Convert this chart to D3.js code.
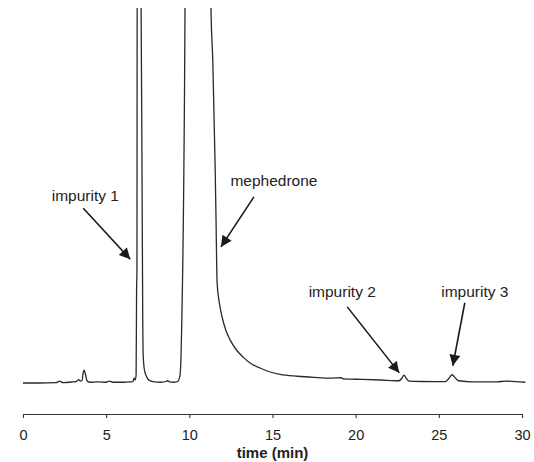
<!DOCTYPE html>
<html lang="en">
<head>
<meta charset="utf-8">
<title>mephedrone chromatogram</title>
<script src="https://cdn.jsdelivr.net/npm/d3@7"></script>
<style>
  body { margin: 0; background: #fff; }
  svg { display: block; }
  text { font-family: "Liberation Sans", Arial, sans-serif; fill: #222; }
</style>
</head>
<body>
<script>
// retention time (min) and detector signal (arbitrary units, 100 = top of plot)
var times = [
  0, 1.0, 2.0, 2.2, 2.4, 3.0, 3.2, 3.35, 3.45, 3.55, 3.62, 3.68, 3.75, 3.85, 4.0,
  4.5, 5.0, 5.2, 5.4, 6.0, 6.4, 6.55, 6.62, 6.68, 6.74, 6.8, 6.83, 6.85, 6.87,
  7.06, 7.2, 7.22, 7.3, 7.45, 7.6, 7.9, 8.3, 8.6, 8.7, 8.8, 9.1, 9.3, 9.4, 9.45,
  9.5, 9.55, 9.74, 9.76, 11.28, 11.3, 11.41, 11.55, 11.6, 11.67, 11.8, 11.97,
  12.2, 12.45, 12.8, 13.23, 13.7, 14.25, 14.8, 15.45, 16.5, 17.5, 18.5, 19.1,
  19.3, 20.0, 21.5, 22.6, 22.8, 22.9, 23.05, 23.2, 24.0, 25.4, 25.6, 25.8, 26.0,
  26.2, 27.0, 28.5, 29.0, 30.2
];
var signal = [
  0, 0, 0.1, 0.5, 0.1, 0.3, 0.4, 0.9, 0.5, 0.7, 2.8, 3.4, 2.4, 0.6, 0.2,
  0.3, 0.2, 0.5, 0.2, 0.2, 0.3, 0.3, 0.5, 1.3, 0.8, 2.0, 25, 30, 130,
  130, 16, 8, 3.5, 1.5, 0.7, 0.3, 0.2, 0.4, 0.6, 0.3, 0.2, 0.4, 1.3, 2.4,
  7, 17, 100, 130, 130, 100, 86, 58, 45, 26.7, 21.5, 17.6,
  14, 11.5, 9, 6.9, 5.2, 4.0, 3.0, 2.3, 1.8, 1.5, 1.3, 1.4,
  1.1, 1.0, 0.8, 0.6, 1.4, 2.1, 1.2, 0.5, 0.4, 0.35, 1.2, 2.2, 1.3,
  0.6, 0.3, 0.3, 0.5, 0.2
];

var xTicks = [0, 5, 10, 15, 20, 25, 30];
var xTitle = "time (min)";

// annotated peaks: label, arrow tip in data units
var annLabels = ["impurity 1", "mephedrone", "impurity 2", "impurity 3"];
var annTime = [6.45, 11.9, 22.62, 25.84];
var annSignal = [33, 36.3, 2.7, 4.6];

var w = 534, h = 462;
var svg = d3.select("body").append("svg").attr("width", w).attr("height", h);

var x = d3.scaleLinear().domain([0, 30]).range([23, 522]);
var y = d3.scaleLinear().domain([0, 100]).range([383, 8]);

svg.append("clipPath").attr("id", "plotclip")
  .append("rect").attr("x", 0).attr("y", y(100)).attr("width", w).attr("height", h);

var pts = times.map(function(t, i) { return [t, signal[i]]; });

var line = d3.line()
  .x(function(d) { return x(d[0]); })
  .y(function(d) { return y(d[1]); })
  .curve(d3.curveMonotoneX);

svg.append("path")
  .datum(pts)
  .attr("clip-path", "url(#plotclip)")
  .attr("d", line)
  .attr("fill", "none")
  .attr("stroke", "#2a2a2a")
  .attr("stroke-width", 1.3);

// x axis
var axis = svg.append("g")
  .attr("transform", "translate(0,414)")
  .call(d3.axisBottom(x).tickValues(xTicks).tickSize(4).tickSizeOuter(0).tickPadding(0));
axis.select(".domain").attr("stroke", "#333").attr("stroke-width", 1.1);
axis.selectAll(".tick line").attr("stroke", "#333").attr("stroke-width", 1.1);
axis.selectAll(".tick text")
  .attr("y", 26).attr("dy", 0)
  .style("font-size", "14.5px")
  .style("font-family", "'Liberation Sans', Arial, sans-serif")
  .attr("fill", "#222");

svg.append("text")
  .attr("x", (x(0) + x(30)) / 2)
  .attr("y", 458)
  .attr("text-anchor", "middle")
  .style("font-size", "15px")
  .style("font-weight", "bold")
  .text(xTitle);

// arrows + labels, offsets (px) from arrow tip
var tailOff = [[-47, -51], [33, -50], [-52, -66], [12, -63]];
var labelOff = [[-45, -58], [53, -61], [-57, -76], [22, -69]];

svg.append("defs").append("marker")
  .attr("id", "head")
  .attr("viewBox", "0 0 10 10")
  .attr("refX", 10).attr("refY", 5)
  .attr("markerWidth", 13).attr("markerHeight", 11)
  .attr("markerUnits", "userSpaceOnUse")
  .attr("orient", "auto")
  .append("path").attr("d", "M0,0L10,5L0,10Z").attr("fill", "#1a1a1a");

annLabels.forEach(function(lab, i) {
  var tx = x(annTime[i]), ty = y(annSignal[i]);
  svg.append("line")
    .attr("x1", tx + tailOff[i][0]).attr("y1", ty + tailOff[i][1])
    .attr("x2", tx).attr("y2", ty)
    .attr("stroke", "#1a1a1a")
    .attr("stroke-width", 1.6)
    .attr("marker-end", "url(#head)");
  svg.append("text")
    .attr("x", tx + labelOff[i][0]).attr("y", ty + labelOff[i][1])
    .attr("text-anchor", "middle")
    .style("font-size", "15.5px")
    .text(lab);
});
</script>
</body>
</html>
